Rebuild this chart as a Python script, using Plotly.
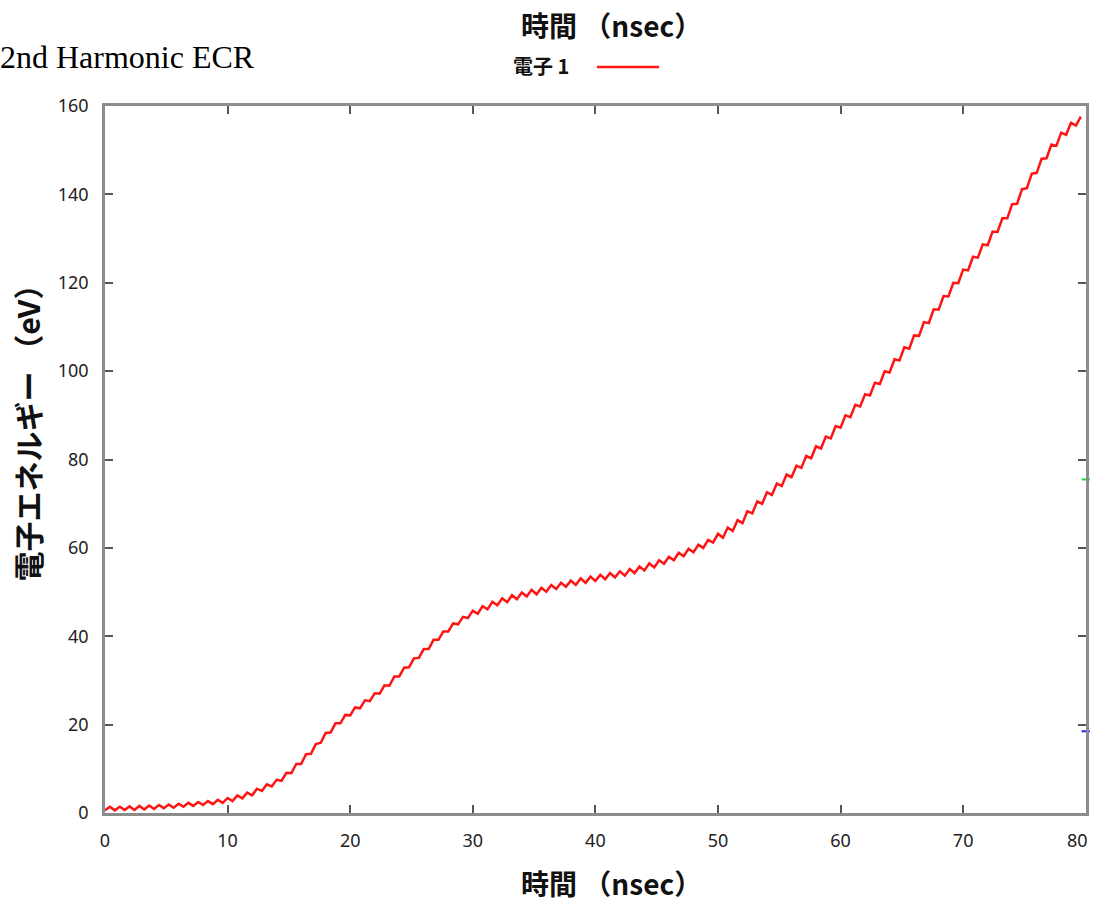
import plotly.graph_objects as go

# Electron 1 kinetic energy (eV), sampled every 0.4 ns from 0 to 79.6 ns
energy_ev = [
    0.6, 1.4, 0.6, 1.4, 0.7, 1.5, 0.7, 1.6, 0.8, 1.7,
    0.9, 1.8, 1.1, 1.9, 1.2, 2.1, 1.4, 2.3, 1.6, 2.5,
    1.8, 2.7, 2.0, 3.0, 2.3, 3.4, 2.7, 4.0, 3.3, 4.6,
    4.0, 5.5, 5.0, 6.5, 6.0, 7.5, 7.3, 9.1, 9.0, 11.1,
    11.1, 13.3, 13.4, 15.6, 15.9, 18.1, 18.2, 20.3, 20.3, 22.2,
    22.1, 23.9, 23.7, 25.5, 25.3, 27.1, 27.0, 28.9, 28.8, 30.9,
    30.9, 32.9, 33.0, 35.0, 35.1, 37.1, 37.1, 39.2, 39.2, 41.1,
    41.1, 42.9, 42.7, 44.4, 44.1, 45.8, 45.1, 46.8, 46.1, 47.8,
    47.0, 48.6, 47.7, 49.3, 48.4, 49.9, 49.0, 50.5, 49.5, 51.0,
    50.1, 51.6, 50.7, 52.1, 51.2, 52.6, 51.6, 53.1, 52.1, 53.5,
    52.5, 53.9, 52.9, 54.3, 53.3, 54.7, 53.7, 55.2, 54.3, 55.8,
    54.9, 56.5, 55.6, 57.2, 56.4, 58.0, 57.2, 58.9, 58.1, 59.8,
    59.0, 60.7, 60.0, 61.8, 61.2, 63.2, 62.3, 64.6, 63.8, 66.3,
    65.6, 68.3, 67.8, 70.5, 70.0, 72.6, 72.0, 74.6, 74.0, 76.6,
    76.0, 78.6, 78.1, 80.8, 80.3, 83.0, 82.5, 85.2, 84.8, 87.6,
    87.2, 90.0, 89.6, 92.4, 92.0, 94.8, 94.5, 97.4, 97.1, 100.0,
    99.7, 102.7, 102.4, 105.4, 105.1, 108.1, 108.0, 111.1, 110.9, 114.0,
    113.9, 117.0, 116.9, 120.0, 119.9, 123.0, 122.8, 125.9, 125.7, 128.7,
    128.5, 131.6, 131.5, 134.6, 134.6, 137.8, 137.9, 141.2, 141.4, 144.7,
    144.9, 148.1, 148.2, 151.3, 151.0, 154.0, 153.5, 156.2, 155.6, 157.6,
]
SAMPLE_STEP_NS = 0.4
time_ns = [round(SAMPLE_STEP_NS * i, 1) for i in range(len(energy_ev))]

# Other electrons: only their final values reach the right frame edge
electron2_t = [80]
electron2_e = [75.5]
electron3_t = [80]
electron3_e = [18.5]

x_ticks = [0, 10, 20, 30, 40, 50, 60, 70, 80]
y_ticks = [0, 20, 40, 60, 80, 100, 120, 140, 160]
# the label of the last x tick is drawn right-aligned to the frame instead
x_tick_text = ["0", "10", "20", "30", "40", "50", "60", "70", ""]
x_last_label = "80"
y_tick_text = [str(v) for v in y_ticks]

series_name = "電子 1"
x_title = "時間 （nsec）"
y_title = "電子エネルギー （eV）"
chart_title = "2nd Harmonic ECR"

CJK = "Noto Sans CJK JP"
TICK_FONT = dict(family="Noto Sans", size=18, color="#222222")

fig = go.Figure()
fig.add_trace(go.Scatter(
    x=time_ns, y=energy_ev, mode="lines", name=series_name,
    line=dict(color="#ff1414", width=2.5), showlegend=False,
))
fig.add_trace(go.Scatter(
    x=electron2_t, y=electron2_e, mode="markers", name="電子 2",
    marker=dict(symbol="line-ew", size=6, line=dict(color="#22dd22", width=2)),
    cliponaxis=False, showlegend=False,
))
fig.add_trace(go.Scatter(
    x=electron3_t, y=electron3_e, mode="markers", name="電子 3",
    marker=dict(symbol="line-ew", size=6, line=dict(color="#2222ff", width=2)),
    cliponaxis=False, showlegend=False,
))

axis_common = dict(
    showline=True, linecolor="#8c8c8c", linewidth=2.5, mirror="ticks",
    ticks="inside", ticklen=8, tickwidth=1.5, tickcolor="#555555",
    showgrid=False, zeroline=False, tickfont=TICK_FONT,
    ticklabelstandoff=10, automargin=False,
)

fig.update_xaxes(range=[0, 80.02], tickvals=x_ticks, ticktext=x_tick_text,
                 **axis_common)
fig.update_yaxes(range=[0, 160.02], tickvals=y_ticks, ticktext=y_tick_text,
                 **axis_common)

x_title_font = dict(family=CJK, size=28, color="#111111", weight="bold")
y_title_font = dict(family=CJK, size=30, color="#111111", weight="bold")

fig.update_layout(
    width=1093, height=905, autosize=False,
    margin=dict(l=105, r=7, t=106, b=92),
    paper_bgcolor="white", plot_bgcolor="white",
    annotations=[
        dict(text=chart_title, xref="paper", yref="paper", x=-0.109, y=1.0693,
             xanchor="left", yanchor="middle", showarrow=False,
             font=dict(family="Liberation Serif", size=32, color="#000000")),
        dict(text=x_title, xref="paper", yref="paper", x=0.516, y=1.114,
             xanchor="center", yanchor="middle", showarrow=False, font=x_title_font),
        dict(text=x_title, xref="paper", yref="paper", x=0.516, y=-0.0985,
             xanchor="center", yanchor="middle", showarrow=False, font=x_title_font),
        dict(text=y_title, xref="paper", yref="paper", x=-0.0795, y=0.548,
             xanchor="center", yanchor="middle", textangle=-90, showarrow=False,
             font=y_title_font),
        dict(text=series_name, xref="paper", yref="paper", x=0.4139, y=1.0566,
             xanchor="left", yanchor="middle", showarrow=False,
             font=dict(family=CJK, size=20, color="#111111", weight="bold")),
        dict(text=x_last_label, xref="paper", yref="paper", x=1.0, y=-0.0382,
             xanchor="right", yanchor="middle", xshift=4, showarrow=False,
             font=TICK_FONT),
    ],
    shapes=[
        dict(type="line", xref="paper", yref="paper", x0=0.5015, x1=0.5647,
             y0=1.0552, y1=1.0552, line=dict(color="#ff1414", width=2.5)),
    ],
)

fig.write_html("out.html")
